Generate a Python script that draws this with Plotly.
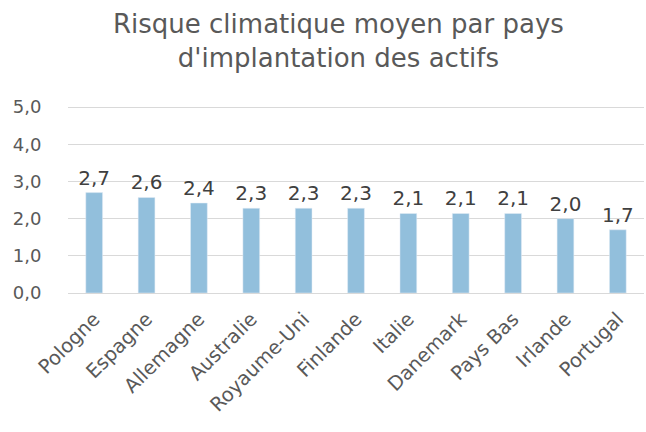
import plotly.graph_objects as go

# ── Data ──────────────────────────────────────────────────────────
PAYS = ["Pologne", "Espagne", "Allemagne", "Australie", "Royaume-Uni",
        "Finlande", "Italie", "Danemark", "Pays Bas", "Irlande", "Portugal"]
RISQUE = [2.70, 2.57, 2.42, 2.28, 2.28, 2.28, 2.14, 2.14, 2.14, 2.00, 1.70]
Y_TICKS = [0, 1, 2, 3, 4, 5]

GREY = "#595959"
FONT = "DejaVu Sans"

fig = go.Figure(go.Bar(
    x=PAYS, y=RISQUE,
    marker=dict(color="#92bfdc"),
    texttemplate="%{y:.1f}", textposition="outside", cliponaxis=False,
    constraintext="none",
    textfont=dict(size=20, color="#404040", family=FONT),
))

fig.update_layout(
    width=646, height=432,
    margin=dict(l=68, r=2, t=106, b=139),
    annotations=[dict(
        text="Risque climatique moyen par pays<br>d'implantation des actifs",
        xref="paper", yref="paper", x=0.469, y=1.53,
        xanchor="center", yanchor="top", showarrow=False,
        font=dict(size=26, color=GREY, family=FONT),
    )],
    separators=", ",
    bargap=0.68,
    plot_bgcolor="white", paper_bgcolor="white",
    showlegend=False,
    font=dict(family=FONT, color=GREY),
)
fig.update_yaxes(range=[0, 5.03], tickvals=Y_TICKS, tickformat=".1f",
                 showgrid=True, gridcolor="#d9d9d9", gridwidth=1.2,
                 zeroline=True, zerolinecolor="#d9d9d9", zerolinewidth=1.2,
                 tickfont=dict(size=18, color=GREY), ticks="outside", ticklen=22,
                 tickcolor="white", automargin=False)
fig.update_xaxes(tickangle=-45, tickfont=dict(size=19.5, color=GREY),
                 showline=False, ticks="outside", ticklen=6, tickcolor="white",
                 automargin=False)

# page body has an 8px default margin; drop it so the chart sits at 0,0
fig.write_html("out.html", config={"displayModeBar": False},
               post_script="document.body.style.margin='0';")
